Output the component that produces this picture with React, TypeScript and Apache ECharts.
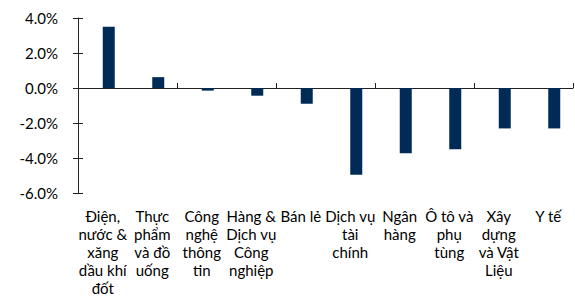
import React, { useEffect, useRef } from "react";
import * as echarts from "echarts";

const categories = [
  "Điện,\nnước &\nxăng\ndầu khí\nđốt",
  "Thực\nphẩm\nvà đồ\nuống",
  "Công\nnghệ\nthông\ntin",
  "Hàng &\nDịch vụ\nCông\nnghiệp",
  "Bán lẻ",
  "Dịch vụ\ntài\nchính",
  "Ngân\nhàng",
  "Ô tô và\nphụ\ntùng",
  "Xây\ndựng\nvà Vật\nLiệu",
  "Y tế",
];
const values = [3.5, 0.62, -0.15, -0.44, -0.9, -4.95, -3.73, -3.5, -2.31, -2.31];
const placeholder = categories.map(() => null);
const yTicks = { min: -6, max: 4, interval: 2 };

const FONT = "Lato";

export default function App() {
  const ref = useRef<HTMLDivElement>(null);
  useEffect(() => {
    if (!ref.current) return;
    const chart = echarts.init(ref.current, null, { renderer: "svg" });
    chart.setOption({
      animation: false,
      grid: { left: 78, right: 2, top: 18, bottom: 108, containLabel: false },
      xAxis: [
        {
          type: "category",
          data: categories,
          axisLine: { onZero: true, lineStyle: { color: "#222", width: 1 } },
          axisTick: { show: true, inside: true, length: 5, lineStyle: { color: "#222" } },
          axisLabel: { show: false },
        },
        {
          type: "category",
          data: categories,
          position: "bottom",
          axisLine: { show: false, onZero: false },
          axisTick: { show: false },
          axisLabel: {
            show: true,
            interval: 0,
            margin: 14,
            color: "#000",
            fontFamily: FONT,
            fontSize: 15,
            lineHeight: 18,
          },
        },
      ],
      yAxis: [
        {
          type: "value",
          min: yTicks.min,
          max: yTicks.max,
          interval: yTicks.interval,
          splitLine: { show: false },
          axisLine: { show: true, lineStyle: { color: "#222" } },
          axisTick: { show: true, length: 5, lineStyle: { color: "#222" } },
          axisLabel: {
            formatter: (v: number) => v.toFixed(1) + "%",
            color: "#000",
            fontFamily: FONT,
            fontSize: 15,
            margin: 20,
          },
        },
        {
          type: "value",
          position: "left",
          min: yTicks.min,
          max: yTicks.max,
          interval: yTicks.interval,
          splitLine: { show: false },
          axisLine: { show: false },
          axisTick: { show: true, inside: true, length: 5, lineStyle: { color: "#222" } },
          axisLabel: { show: false },
        },
      ],
      series: [
        {
          type: "bar",
          data: placeholder,
          barWidth: 12,
          barGap: "0%",
          itemStyle: { color: "transparent" },
        },
        {
          type: "bar",
          data: values,
          barWidth: 12,
          barGap: "0%",
          itemStyle: { color: "#002b56" },
        },
      ],
    });
    return () => chart.dispose();
  }, []);
  return <div ref={ref} style={{ width: 575, height: 301, position: "absolute", left: 0, top: 0 }} />;
}
